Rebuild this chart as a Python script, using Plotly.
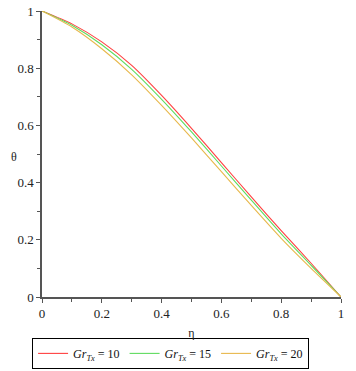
import plotly.graph_objects as go

eta = [0.0, 0.1, 0.2, 0.3, 0.4, 0.5, 0.6, 0.7, 0.8, 0.9, 1.0]
theta_gr10 = [1.0, 0.955, 0.892, 0.810, 0.705, 0.590, 0.470, 0.350, 0.232, 0.118, 0.0]
theta_gr15 = [1.0, 0.950, 0.882, 0.796, 0.691, 0.577, 0.458, 0.339, 0.221, 0.111, 0.0]
theta_gr20 = [1.0, 0.944, 0.868, 0.777, 0.670, 0.556, 0.438, 0.320, 0.205, 0.100, 0.0]
series_names = ["<i>Gr</i><sub><i>Tx</i></sub> = 10",
                "<i>Gr</i><sub><i>Tx</i></sub> = 15",
                "<i>Gr</i><sub><i>Tx</i></sub> = 20"]
colors = ["#ff4040", "#5fdc5f", "#e8b84c"]

FONT = "Liberation Serif"

fig = go.Figure()
for ys, name, c in zip([theta_gr10, theta_gr15, theta_gr20], series_names, colors):
    fig.add_trace(go.Scatter(x=eta, y=ys, mode="lines", name=name,
                             line=dict(color=c, width=1.1, shape="spline", smoothing=0.6)))

axis_common = dict(
    range=[0, 1], showgrid=False, zeroline=False, showline=True, automargin=False,
    linecolor="#555555", linewidth=1.5, ticks="outside", ticklen=4,
    tickcolor="#555555", tickwidth=1, dtick=0.2, tick0=0,
    tickfont=dict(family=FONT, size=13, color="#222222"),
    minor=dict(ticks="outside", ticklen=3, dtick=0.1, tickcolor="#555555"),
)

fig.update_layout(
    width=356, height=371,
    margin=dict(l=42, r=15, t=11, b=74, autoexpand=False),
    paper_bgcolor="white", plot_bgcolor="white",
    font=dict(family=FONT),
    xaxis=dict(**axis_common, title=dict(text="η", font=dict(family=FONT, size=12, color="#222222"), standoff=8)),
    yaxis=dict(**axis_common),
    showlegend=True,
    legend=dict(orientation="h", x=0.43, xanchor="center", y=-0.143, yanchor="top",
                bordercolor="#000000", borderwidth=1, bgcolor="white",
                font=dict(family=FONT, size=12, color="#111111"),
                itemwidth=30, tracegroupgap=0),
    annotations=[dict(text="θ", x=-0.11, y=0.49, xref="paper", yref="paper",
                      showarrow=False, font=dict(family=FONT, size=12, color="#222222"))],
)

fig.write_html("out.html", config={"displayModeBar": False},
               post_script="document.body.style.margin='0';document.body.style.overflow='hidden';")
